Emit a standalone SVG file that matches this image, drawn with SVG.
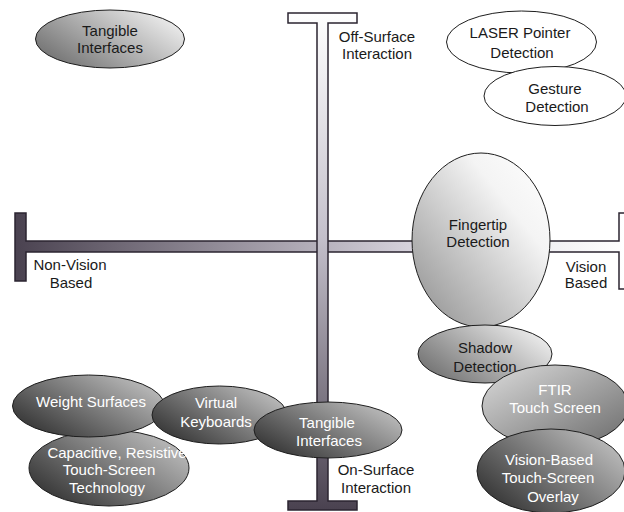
<svg xmlns="http://www.w3.org/2000/svg" width="624" height="512" viewBox="0 0 624 512">
  <defs>
    <!-- axis fills: fade from dark slate to white -->
    <linearGradient id="gradH" gradientUnits="userSpaceOnUse" x1="15" y1="0" x2="624" y2="0">
      <stop offset="0" stop-color="#4a4250"/>
      <stop offset="0.65" stop-color="#d6d2dc"/>
      <stop offset="1" stop-color="#ffffff"/>
    </linearGradient>
    <linearGradient id="gradV" gradientUnits="userSpaceOnUse" x1="0" y1="13" x2="0" y2="510">
      <stop offset="0" stop-color="#ffffff"/>
      <stop offset="0.45" stop-color="#c4c0cb"/>
      <stop offset="1" stop-color="#4a4250"/>
    </linearGradient>
    <!-- node fills -->
    <linearGradient id="gradMid" x1="0" y1="0.8" x2="1" y2="0.2">
      <stop offset="0" stop-color="#6e6e6e"/>
      <stop offset="1" stop-color="#f2f2f2"/>
    </linearGradient>
    <linearGradient id="gradLight" x1="0" y1="1" x2="1" y2="0">
      <stop offset="0" stop-color="#8c8c8c"/>
      <stop offset="0.7" stop-color="#f4f4f4"/>
      <stop offset="1" stop-color="#ffffff"/>
    </linearGradient>
    <linearGradient id="gradFtir" x1="0" y1="0" x2="1" y2="1">
      <stop offset="0" stop-color="#dcdcdc"/>
      <stop offset="1" stop-color="#6a6a6a"/>
    </linearGradient>
    <linearGradient id="gradDark" x1="0" y1="0.85" x2="1" y2="0.15">
      <stop offset="0" stop-color="#2e2e2e"/>
      <stop offset="1" stop-color="#c4c4c4"/>
    </linearGradient>
  </defs>
  <style>
    .axis { stroke: #2b2530; stroke-width: 1.5; stroke-linejoin: miter; }
    .node { stroke: #1e1e1e; stroke-width: 1; }
    .plain { fill: #ffffff; }
    text { font-family: "Liberation Sans", Arial, sans-serif; font-size: 15px; text-anchor: middle; }
    .dk { fill: #1a1a1a; }
    .lt { fill: #ffffff; }
  </style>

  <rect width="624" height="512" fill="#ffffff"/>

  <!-- axes -->
  <g id="connectors">
    <polygon id="axis-horizontal" class="axis" fill="url(#gradH)"
      points="15,213 26,213 26,241 619,241 619,213 632,213 632,289 619,289 619,252 26,252 26,281 15,281"/>
    <polygon id="axis-vertical" class="axis" fill="url(#gradV)"
      points="288,13 357,13 357,23 328,23 328,501 357,501 357,510 288,510 288,501 317,501 317,23 288,23"/>
  </g>

  <!-- axis labels -->
  <g id="label-off-surface">
    <text class="dk" x="377" y="42">Off-Surface</text>
    <text class="dk" x="377" y="59">Interaction</text>
  </g>
  <g id="label-on-surface">
    <text class="dk" x="376" y="475">On-Surface</text>
    <text class="dk" x="376" y="493">Interaction</text>
  </g>
  <g id="label-non-vision">
    <text class="dk" x="70" y="270">Non-Vision</text>
    <text class="dk" x="71" y="288">Based</text>
  </g>
  <g id="label-vision">
    <text class="dk" x="586" y="272">Vision</text>
    <text class="dk" x="586" y="288">Based</text>
  </g>

  <!-- upper left -->
  <g id="tangible-off">
    <ellipse class="node" fill="url(#gradMid)" cx="110" cy="39" rx="74.5" ry="29"/>
    <text class="dk" x="110" y="36">Tangible</text>
    <text class="dk" x="110" y="53">Interfaces</text>
  </g>

  <!-- upper right -->
  <g id="laser-pointer">
    <ellipse class="node plain" cx="521.5" cy="42" rx="75" ry="31"/>
    <text class="dk" x="520" y="38">LASER Pointer</text>
    <text class="dk" x="522" y="58">Detection</text>
  </g>
  <g id="gesture">
    <ellipse class="node plain" cx="555" cy="96" rx="71" ry="29.5"/>
    <text class="dk" x="555" y="94">Gesture</text>
    <text class="dk" x="557" y="112">Detection</text>
  </g>

  <!-- lower right -->
  <g id="fingertip">
    <ellipse class="node" fill="url(#gradLight)" cx="481" cy="240" rx="69" ry="87"/>
    <text class="dk" x="478" y="230">Fingertip</text>
    <text class="dk" x="478" y="247">Detection</text>
  </g>
  <g id="shadow">
    <ellipse class="node" fill="url(#gradMid)" cx="485" cy="354" rx="67" ry="29"/>
    <text class="dk" x="485" y="353">Shadow</text>
    <text class="dk" x="485" y="372">Detection</text>
  </g>
  <g id="ftir">
    <ellipse class="node" fill="url(#gradFtir)" cx="555" cy="406" rx="73" ry="41"/>
    <text class="lt" x="555" y="395">FTIR</text>
    <text class="lt" x="555" y="413">Touch Screen</text>
  </g>
  <g id="vision-overlay">
    <ellipse class="node" fill="url(#gradDark)" cx="551" cy="471" rx="74" ry="42"/>
    <text class="lt" x="549" y="465">Vision-Based</text>
    <text class="lt" x="548" y="483">Touch-Screen</text>
    <text class="lt" x="553" y="502">Overlay</text>
  </g>

  <!-- lower left -->
  <g id="capacitive">
    <ellipse class="node" fill="url(#gradDark)" cx="109" cy="468" rx="80" ry="38"/>
    <text class="lt" x="117" y="458">Capacitive, Resistive</text>
    <text class="lt" x="109" y="475">Touch-Screen</text>
    <text class="lt" x="107" y="493">Technology</text>
  </g>
  <g id="weight">
    <ellipse class="node" fill="url(#gradDark)" cx="88.5" cy="406" rx="76" ry="31"/>
    <text class="lt" x="91" y="407">Weight Surfaces</text>
  </g>
  <g id="virtual-keyboards">
    <ellipse class="node" fill="url(#gradDark)" cx="219.5" cy="415" rx="67.5" ry="29"/>
    <text class="lt" x="216" y="408">Virtual</text>
    <text class="lt" x="216" y="427">Keyboards</text>
  </g>
  <g id="tangible-on">
    <ellipse class="node" fill="url(#gradDark)" cx="328" cy="430" rx="74" ry="28"/>
    <text class="lt" x="327" y="428">Tangible</text>
    <text class="lt" x="329" y="446">Interfaces</text>
  </g>
</svg>
